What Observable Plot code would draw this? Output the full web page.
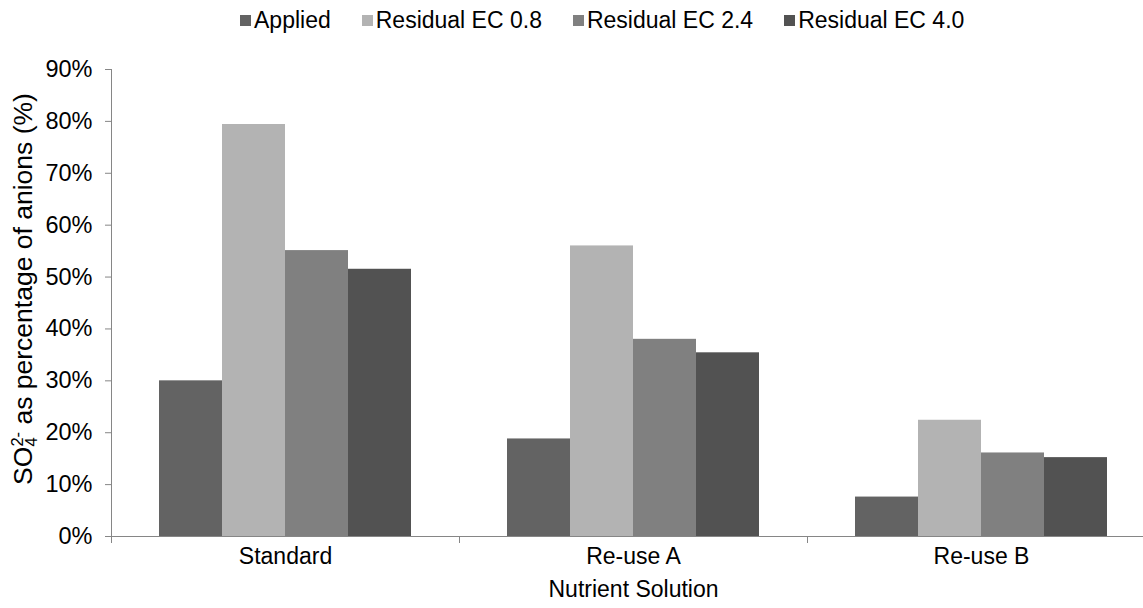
<!DOCTYPE html>
<html><head><meta charset="utf-8">
<script src="https://cdn.jsdelivr.net/npm/d3@7"></script>
<script src="https://cdn.jsdelivr.net/npm/@observablehq/plot@0.6"></script>
<style>
body{margin:0;background:#fff;font-family:"Liberation Sans",Arial,sans-serif;overflow:hidden;}
#legend{height:40px;display:flex;align-items:center;padding-left:240px;box-sizing:border-box;width:1143px;font-size:23px;color:#000;}
#legend .item{display:flex;align-items:center;margin-right:31px;}
#legend .sw{width:11px;height:11px;margin-right:3px;}
</style></head><body>
<div id="legend"></div><div id="chart"></div>
<script>
const groups = ["Standard", "Re-use A", "Re-use B"];
const series = ["Applied", "Residual EC 0.8", "Residual EC 2.4", "Residual EC 4.0"];
const colors = ["#636363", "#b3b3b3", "#808080", "#525252"];
const applied = [0.300, 0.188, 0.076];
const residualEC08 = [0.794, 0.560, 0.224];
const residualEC24 = [0.551, 0.380, 0.161];
const residualEC40 = [0.515, 0.354, 0.152];
const yTicks = [0, 0.1, 0.2, 0.3, 0.4, 0.5, 0.6, 0.7, 0.8, 0.9];
const xTitle = "Nutrient Solution";

const values = [applied, residualEC08, residualEC24, residualEC40];
const data = groups.flatMap((g, gi) => series.map((s, si) => ({group: g, series: s, value: values[si][gi]})));

// legend
const leg = d3.select("#legend");
series.forEach((s, i) => {
  const it = leg.append("div").attr("class", "item");
  it.append("div").attr("class", "sw").style("background", colors[i]);
  it.append("span").text(s);
});

const H = 568, MT = 29, MB = 72;
const axisGray = "#868686";
const plot = Plot.plot({
  width: 1143, height: H,
  marginLeft: 111, marginRight: -12, marginTop: MT, marginBottom: MB,
  style: {fontFamily: '"Liberation Sans", Arial, sans-serif', fontSize: "23px", color: "#000", background: "white", overflow: "visible"},
  fx: {domain: groups, paddingInner: 0, paddingOuter: 0},
  x: {domain: series, paddingInner: 0, paddingOuter: 0.751, axis: null},
  y: {domain: [0, 0.9]},
  color: {domain: series, range: colors},
  marks: [
    Plot.barY(data, {fx: "group", x: "series", y: "value", fill: "series"}),
    Plot.ruleY([0], {stroke: axisGray}),
    Plot.frame({anchor: "left", facetAnchor: "left", stroke: axisGray, insetBottom: -6}),
    Plot.frame({anchor: "left", stroke: axisGray, insetTop: H - MT - MB, insetBottom: -6}),
    Plot.axisY({ticks: yTicks, tickFormat: d => Math.round(d * 100) + "%", tickSize: 6, tickPadding: 13, stroke: axisGray, fill: "#000", label: null, fontSize: 23.5}),
    Plot.axisFx({anchor: "bottom", tickSize: 0, tickPadding: 11, fill: "#000", label: xTitle, labelAnchor: "center", labelOffset: 60})
  ]
});
document.getElementById("chart").appendChild(plot);

// y-axis title with sub/superscript
const svg = d3.select(plot.tagName.toLowerCase() === "svg" ? plot : plot.querySelector("svg"));
const t = svg.append("text")
  .attr("transform", "translate(32,249) rotate(-90)")
  .attr("text-anchor", "middle")
  .attr("fill", "#000")
  .style("font-size", "26.5px");
t.append("tspan").text("SO");
t.append("tspan").attr("dy", 5).style("font-size", "16.5px").text("4");
t.append("tspan").attr("dy", -14).attr("dx", -9.2).style("font-size", "16.5px").text("2-");
t.append("tspan").attr("dy", 9).text(" as percentage of anions (%)");
</script>
</body></html>
